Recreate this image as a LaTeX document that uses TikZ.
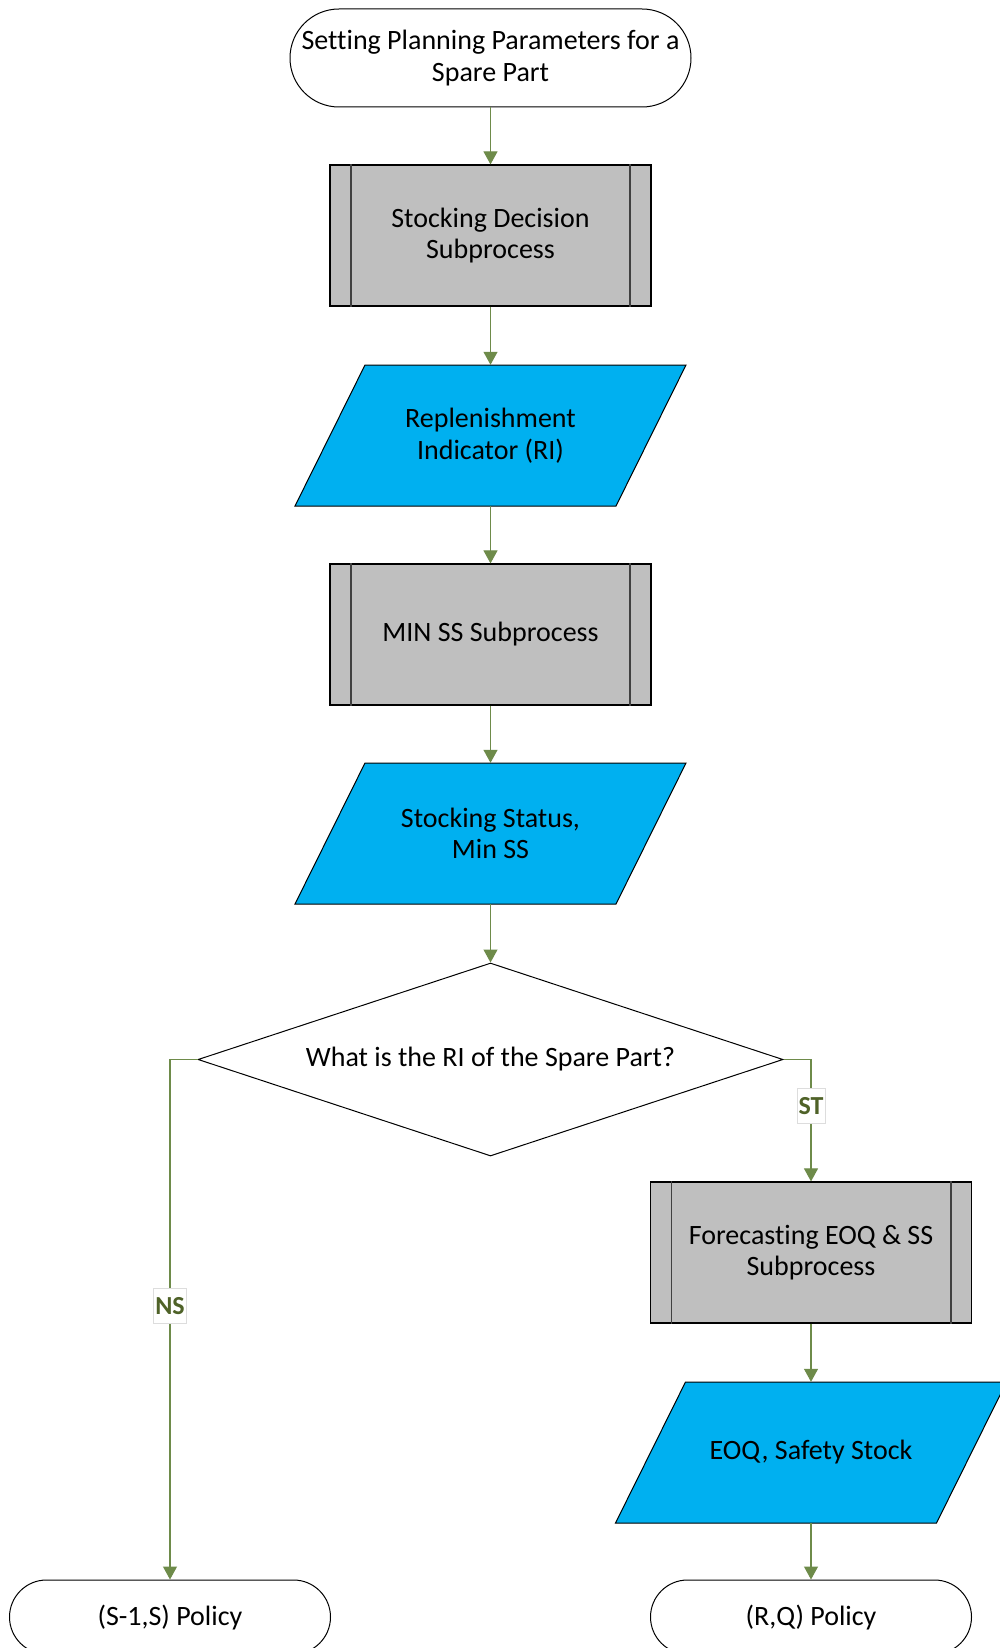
\documentclass[tikz,border=0pt]{standalone}
\usepackage{fontspec}
\setmainfont{Carlito}[Ligatures=NoCommon]
\usetikzlibrary{arrows.meta,shapes.geometric,calc}
\definecolor{flowgreen}{HTML}{6E8B4A}
\definecolor{labelgreen}{HTML}{4F6228}
\definecolor{subgray}{HTML}{BFBFBF}
\definecolor{subline}{HTML}{404040}
\definecolor{datablue}{HTML}{00B0F0}
\definecolor{labelframe}{HTML}{DDDDDD}

\begin{document}
\begin{tikzpicture}[x=1pt,y=-1pt,
  txt/.style={font=\fontsize{28}{31.5}\selectfont, align=center, text=black},
  terminal/.style={txt, draw=black, line width=1pt, fill=white, rounded corners=#1, inner sep=0pt},
  subbox/.style={txt, draw=black, line width=1.2pt, fill=subgray, minimum width=321pt, minimum height=141pt, inner sep=0pt},
  subedge/.style={draw=subline, line width=1.8pt},
  dataframe/.style={draw=black, line width=1pt, fill=datablue},
  datanode/.style={txt, minimum width=321pt, minimum height=141pt, inner sep=0pt},
  decision/.style={txt, diamond, draw=black, line width=1pt, fill=white, aspect=3, minimum width=585pt, minimum height=193pt, inner sep=0pt},
  flow/.style={draw=flowgreen, line width=1.1pt, -{Triangle[length=13pt,width=14pt,fill=flowgreen]}},
  lbl/.style={font=\fontsize{26}{28}\selectfont\bfseries, text=labelgreen, fill=white, draw=labelframe, line width=0.6pt, inner xsep=1.5pt, minimum height=35pt, inner ysep=0pt}
]
\clip (0,0) rectangle (1000,1648);
\fill[white] (0,0) rectangle (1000,1648);

% centres of the input/output shapes
\coordinate (c1) at (490.5,435.5);
\coordinate (c2) at (490.5,833.5);
\coordinate (c3) at (811,1452.5);

% parallelogram outlines for the data shapes
\foreach \c in {c1,c2,c3}
  \filldraw[dataframe] ($(\c)+(-195.5,70.5)$) -- ($(\c)+(125.5,70.5)$)
     -- ($(\c)+(195.5,-70.5)$) -- ($(\c)+(-125.5,-70.5)$) -- cycle;

% nodes
\node[terminal=49, minimum width=401pt, minimum height=98pt] (start) at (490.5,58)
  {Setting Planning Parameters for a\\Spare Part};
\node[subbox] (sd) at (490.5,235.5) {Stocking Decision\\Subprocess};
\node[datanode] (ri) at (c1) {Replenishment\\Indicator (RI)};
\node[subbox] (mss) at (490.5,634.5) {MIN SS Subprocess};
\node[datanode] (st) at (c2) {Stocking Status,\\Min SS};
\node[decision] (q) at (490.5,1059.5) {What is the RI of the Spare Part?};
\node[subbox] (fc) at (811,1252.5) {Forecasting EOQ \& SS\\Subprocess};
\node[datanode] (eoq) at (c3) {EOQ, Safety Stock};
\node[terminal=37, minimum width=321pt, minimum height=74pt] (ns) at (170,1617) {(S-1,S) Policy};
\node[terminal=37, minimum width=321pt, minimum height=74pt] (rq) at (811,1617) {(R,Q) Policy};

% double side bars of the subprocess boxes
\foreach \n in {sd,mss,fc}{
  \draw[subedge] ($(\n.north west)+(21.5,0)$) -- ($(\n.south west)+(21.5,0)$);
  \draw[subedge] ($(\n.north east)+(-21.5,0)$) -- ($(\n.south east)+(-21.5,0)$);
}

% connectors
\draw[flow] (start) -- (sd);
\draw[flow] (sd) -- (ri);
\draw[flow] (ri) -- (mss);
\draw[flow] (mss) -- (st);
\draw[flow] (st) -- (q);
\draw[flow] (q.east) -| node[lbl, pos=0.69] {ST} (fc.north);
\draw[flow] (fc) -- (eoq);
\draw[flow] (eoq) -- (rq);
\draw[flow] (q.west) -| node[lbl, pos=0.737] {NS} (ns.north);
\end{tikzpicture}
\end{document}
